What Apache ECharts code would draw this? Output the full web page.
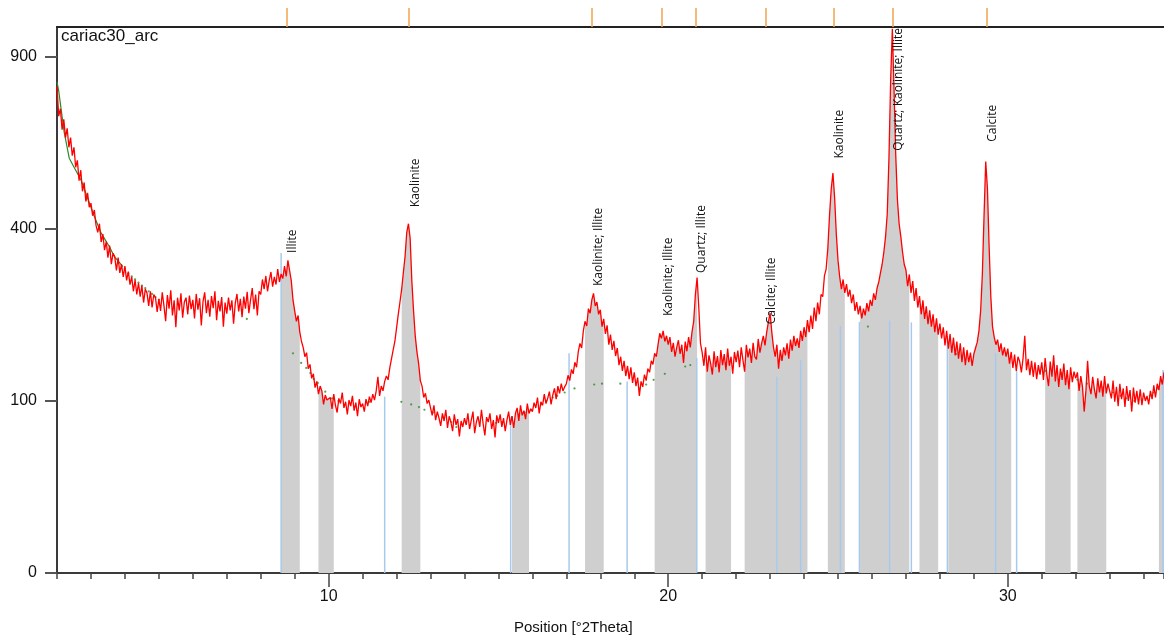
<!DOCTYPE html>
<html>
<head>
<meta charset="utf-8">
<title>cariac30_arc</title>
<script src="https://cdn.jsdelivr.net/npm/echarts@6/dist/echarts.min.js"></script>
<style>
  html, body { margin: 0; padding: 0; background: #fff; }
  #chart { width: 1164px; height: 639px; }
</style>
</head>
<body>
<div id="chart"></div>
<script>
// measured pattern: 2.00 .. 34.60 deg 2Theta, one count every 0.05 deg
var START = 2.0;
var STEP = 0.05;
var counts = [
  800, 705, 728, 664, 695, 640, 668, 612, 640, 588, 612, 556, 575, 520, 548, 492, 515, 466, 488, 452,
  462, 431, 445, 408, 392, 412, 370, 388, 352, 371, 336, 362, 322, 345, 338, 309, 336, 304, 322, 296,
  318, 289, 307, 281, 296, 268, 290, 262, 284, 258, 279, 247, 272, 265, 241, 268, 238, 262, 256, 230,
  254, 232, 266, 241, 214, 261, 236, 270, 224, 251, 204, 256, 233, 264, 220, 248, 256, 226, 260, 235,
  252, 219, 263, 234, 255, 207, 249, 266, 228, 252, 222, 259, 237, 268, 216, 250, 231, 257, 205, 247,
  227, 256, 233, 251, 210, 246, 263, 231, 254, 221, 258, 236, 267, 228, 252, 274, 235, 262, 224, 268,
  262, 291, 272, 298, 268, 289, 306, 277, 296, 281, 312, 286, 302, 293, 318, 297, 330, 309, 288, 252,
  232, 214, 224, 196, 181, 172, 158, 164, 141, 147, 128, 134, 116, 124, 108, 118, 112, 96, 107, 101,
  99, 104, 91, 108, 95, 87, 103, 97, 110, 92, 99, 85, 101, 94, 106, 89, 98, 83, 102, 93,
  97, 88, 102, 94, 105, 98, 108, 101, 112, 130, 106, 118, 112, 124, 131, 126, 142, 155, 168, 181,
  203, 226, 248, 272, 305, 338, 392, 412, 378, 288, 232, 190, 165, 148, 125, 118, 104, 109, 97, 101,
  92, 84, 95, 79, 88, 81, 73, 86, 78, 90, 71, 83, 77, 68, 85, 74, 80, 63, 78, 72,
  81, 74, 86, 70, 79, 88, 66, 77, 83, 72, 90, 75, 64, 82, 77, 86, 70, 79, 62, 84,
  76, 85, 72, 81, 68, 79, 88, 74, 83, 71, 86, 92, 78, 95, 84, 89, 80, 97, 86, 91,
  88, 98, 92, 104, 86, 99, 95, 108, 97, 103, 111, 96, 107, 115, 102, 118, 109, 121, 112, 117,
  121, 132, 125, 140, 134, 150, 143, 165, 178, 171, 198, 214, 206, 236, 228, 252, 264, 241, 248, 226,
  234, 205, 218, 193, 207, 176, 192, 168, 182, 159, 171, 146, 158, 138, 152, 131, 145, 127, 143, 122,
  136, 118, 129, 106, 124, 117, 133, 125, 141, 136, 152, 147, 163, 158, 176, 194, 186, 198, 181, 190,
  176, 188, 165, 179, 158, 172, 183, 162, 176, 149, 181, 166, 188, 172, 196, 214, 262, 295, 238, 178,
  164, 145, 172, 137, 160, 148, 133, 166, 143, 159, 136, 168, 146, 162, 139, 170, 145, 158, 134, 165,
  150, 167, 143, 172, 153, 137, 176, 157, 170, 149, 179, 158, 154, 185, 164, 178, 190, 175, 196, 213,
  228, 196, 172, 158, 176, 141, 168, 152, 172, 160, 178, 155, 184, 167, 190, 174, 186, 171, 198, 182,
  204, 188, 216, 196, 224, 201, 238, 214, 247, 226, 262, 258, 298, 312, 356, 432, 498, 540, 476, 388,
  330, 296, 272, 291, 265, 282, 258, 271, 246, 262, 232, 248, 226, 241, 219, 236, 224, 246, 231, 252,
  241, 264, 252, 274, 286, 304, 322, 348, 382, 436, 580, 820, 1000, 790, 590, 470, 412, 382, 348, 322,
  310, 278, 301, 265, 288, 250, 274, 238, 259, 226, 251, 218, 240, 209, 233, 205, 226, 196, 219, 192,
  210, 186, 204, 175, 198, 170, 193, 164, 187, 160, 181, 155, 178, 150, 172, 146, 168, 150, 164, 145,
  162, 171, 180, 198, 232, 300, 430, 572, 500, 360, 258, 205, 188, 176, 184, 165, 178, 160, 172, 158,
  170, 148, 165, 142, 161, 138, 158, 151, 136, 156, 190, 139, 155, 132, 152, 130, 150, 127, 146, 133,
  150, 126, 156, 133, 118, 151, 130, 160, 124, 146, 117, 141, 126, 148, 119, 139, 114, 143, 123, 137,
  128, 136, 112, 131, 117, 88, 112, 152, 118, 108, 130, 114, 103, 128, 110, 125, 105, 131, 109, 121,
  120, 103, 125, 99, 117, 94, 121, 102, 115, 93, 118, 100, 113, 88, 116, 98, 112, 96, 114, 95,
  110, 100, 106, 96, 112, 102, 119, 104, 121, 113, 131, 120, 136
];

// background (green): solid start, then the visible points
var bgLineX = [2.00, 2.05, 2.21, 2.36, 2.71, 3.10, 3.30, 3.54, 3.69, 3.94];
var bgLineY = [815, 785, 657, 581, 521, 429, 390, 360, 338, 317];
var bgDotX = [4.0, 4.1, 4.2, 4.3, 4.4, 4.5, 4.6, 4.7, 4.8, 4.9, 5.0, 7.59,
  8.95, 9.19, 9.34, 9.46, 9.56, 9.68, 9.90, 10.10, 10.29, 11.20, 12.14, 12.43, 12.66, 12.82,
  13.07, 13.36, 13.61, 13.76, 14.05, 14.93, 15.10, 15.40, 15.60, 15.77, 15.96, 16.26, 16.41,
  16.60, 16.73, 16.95, 17.24, 17.82, 18.05, 18.59, 19.15, 19.35, 19.57, 19.90, 20.50, 20.65,
  23.28, 25.88, 28.48, 31.10, 31.58, 32.05, 32.33, 32.80, 33.10, 33.32, 33.49, 33.73, 34.08,
  34.18, 34.29, 34.40, 34.52];
var bgDotY = [312, 303, 297, 291, 285, 279, 274, 268, 263, 257, 252, 218,
  163, 149, 142, 135, 127, 122, 111, 103, 100, 99, 99, 96, 93, 90,
  87, 82, 77, 72, 76, 76, 77, 82, 85, 87, 90, 96, 100,
  104, 106, 110, 115, 120, 121, 121, 115, 120, 126, 134, 144, 146,
  154, 205, 162, 138, 135, 126, 121, 116, 110, 106, 103, 100, 103,
  106, 110, 115, 124];

// grey integrated regions [from, to] in deg 2Theta
var grayFrom = [8.62, 9.68, 12.16, 15.41, 17.57, 19.61, 21.10, 22.24, 23.46, 24.70, 25.64, 27.41, 28.24, 31.08, 32.03, 34.47];
var grayTo = [9.15, 10.17, 12.68, 15.92, 18.12, 20.84, 21.87, 23.42, 24.11, 25.21, 27.10, 27.94, 30.10, 31.84, 32.90, 34.60];

// reference sticks (light blue)
var stickPos = [8.60, 11.65, 15.36, 17.08, 18.79, 20.84, 23.20, 23.90, 25.07, 25.63, 26.52, 27.16, 28.22, 29.64, 30.26, 34.57];
var stickHeight = [346, 105, 82, 163, 124, 156, 130, 153, 206, 213, 215, 212, 182, 163, 139, 139];

// identified peaks
var peakPos = [8.77, 12.37, 17.76, 19.82, 20.82, 22.88, 24.87, 26.61, 29.37];
var peakNames = ['Illite', 'Kaolinite', 'Kaolinite; Illite', 'Kaolinite; Illite', 'Quartz; Illite',
  'Calcite; Illite', 'Kaolinite', 'Quartz; Kaolinite; Illite', 'Calcite'];
var labelLevels = [346, 452, 278, 223, 304, 209, 580, 602, 628];

var yTicks = [0, 100, 400, 900];
var xLabelTicks = [10, 20, 30];

// y axis is square-root scaled
function sq(v) { return Math.sqrt(v); }

var pattern = counts.map(function (c, i) {
  return [+(START + i * STEP).toFixed(2), sq(c)];
});
var grayData = pattern.map(function (p) {
  var inside = false;
  for (var k = 0; k < grayFrom.length; k++) {
    if (p[0] >= grayFrom[k] - 0.025 && p[0] <= grayTo[k] + 0.025) inside = true;
  }
  return inside ? p : [p[0], null];
});

var chart = echarts.init(document.getElementById('chart'));
var font = 'Liberation Sans, Arial, sans-serif';
var xBase = { type: 'value', min: 2, max: 34.6, splitLine: { show: false } };

var option = {
  animation: false,
  title: [
    {
      text: 'cariac30_arc', left: 61, top: 28, padding: 0,
      textStyle: { fontFamily: font, fontSize: 17, fontWeight: 'normal', color: '#111' }
    },
    {
      text: 'Position [°2Theta]', left: 514, top: 620, padding: 0,
      textStyle: { fontFamily: font, fontSize: 15, fontWeight: 'normal', color: '#111' }
    }
  ],
  grid: { left: 57, right: 0, top: 27, bottom: 66 },
  xAxis: [
    Object.assign({}, xBase, {
      position: 'bottom', interval: 1,
      axisLine: { lineStyle: { color: '#3a3a3a', width: 2 } },
      axisTick: { length: 6, lineStyle: { color: '#444', width: 1.5 } },
      axisLabel: { show: false }
    }),
    Object.assign({}, xBase, {
      position: 'bottom',
      axisLine: { show: false },
      axisTick: { customValues: xLabelTicks, length: 14, lineStyle: { color: '#444', width: 1.5 } },
      axisLabel: { customValues: xLabelTicks, fontFamily: font, fontSize: 16, color: '#111', margin: 16 }
    }),
    Object.assign({}, xBase, {
      position: 'top',
      axisLine: { lineStyle: { color: '#222', width: 2 } },
      axisTick: { customValues: peakPos, length: 19, lineStyle: { color: '#f2a24c', width: 1.5 } },
      axisLabel: { show: false }
    })
  ],
  yAxis: {
    type: 'value', min: 0, max: 31.73,
    splitLine: { show: false },
    axisLine: { show: true, lineStyle: { color: '#3a3a3a', width: 2 } },
    axisTick: { show: true, customValues: yTicks.map(sq), length: 12, lineStyle: { color: '#555', width: 2 } },
    axisLabel: {
      customValues: yTicks.map(sq), fontFamily: font, fontSize: 16, color: '#111', margin: 20,
      formatter: function (v) { return String(Math.round(v * v)); }
    }
  },
  series: [
    {
      name: 'integrated', type: 'line', data: grayData, connectNulls: false,
      symbol: 'none', lineStyle: { width: 0 }, areaStyle: { color: '#cfcfcf', opacity: 1 }, z: 1
    },
    {
      name: 'sticks', type: 'custom', z: 2,
      data: stickPos.map(function (p, i) { return [p, sq(stickHeight[i])]; }),
      renderItem: function (params, api) {
        var a = api.coord([api.value(0), 0]);
        var b = api.coord([api.value(0), api.value(1)]);
        return {
          type: 'line',
          shape: { x1: a[0], y1: a[1], x2: b[0], y2: b[1] },
          style: { stroke: '#a9c9ec', lineWidth: 1.5 }
        };
      }
    },
    {
      name: 'background', type: 'line', z: 3, symbol: 'none',
      data: bgLineX.map(function (x, i) { return [x, sq(bgLineY[i])]; }),
      lineStyle: { color: '#2a8a2a', width: 1.2 }
    },
    {
      name: 'background points', type: 'scatter', z: 3, symbolSize: 2.2,
      data: bgDotX.map(function (x, i) { return [x, sq(bgDotY[i])]; }),
      itemStyle: { color: '#2a8a2a' }
    },
    {
      name: 'cariac30_arc', type: 'line', z: 4, data: pattern, symbol: 'none',
      lineStyle: { color: '#ff0000', width: 1.3 }
    },
    {
      name: 'peak labels', type: 'custom', z: 5, clip: false,
      data: peakPos.map(function (p, i) { return [p, sq(labelLevels[i])]; }),
      renderItem: function (params, api) {
        var pt = api.coord([api.value(0), api.value(1)]);
        return {
          type: 'text',
          x: pt[0] + 6, y: pt[1], rotation: Math.PI / 2,
          style: {
            text: peakNames[params.dataIndex],
            align: 'left', verticalAlign: 'middle',
            textAlign: 'left', textVerticalAlign: 'middle',
            fontFamily: 'Open Sans', fontSize: 12, fill: '#111'
          }
        };
      }
    }
  ]
};

chart.setOption(option);
</script>
</body>
</html>
